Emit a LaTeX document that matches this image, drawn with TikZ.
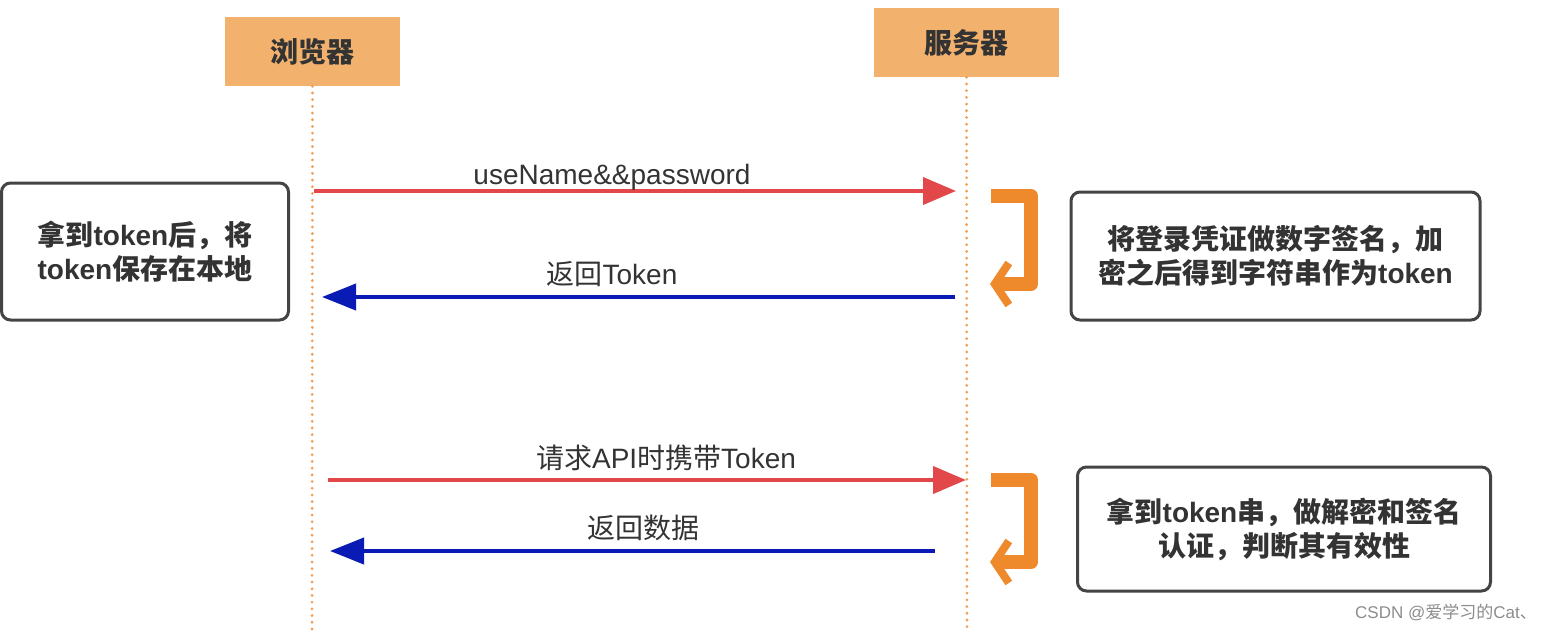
\documentclass[tikz,border=0pt]{standalone}
\usepackage{fontspec}
\setmainfont{Liberation Sans}
\newfontfamily\cjk{Noto Sans CJK SC}
\usetikzlibrary{arrows.meta}
\definecolor{hdrfill}{HTML}{F2B26E}
\definecolor{lifec}{HTML}{F0A058}
\definecolor{reqred}{HTML}{E2484A}
\definecolor{respblue}{HTML}{0A1AB5}
\definecolor{procor}{HTML}{EF8A2C}
\definecolor{txt}{HTML}{333333}
\definecolor{boxline}{HTML}{444444}
\newcommand\zh[1]{{\cjk #1}}
\tikzset{
  hdrbox/.style={fill=hdrfill, draw=none, minimum width=175pt, minimum height=69pt, inner sep=0pt,
    text=txt, font=\cjk\bfseries\fontsize{28}{34}\selectfont},
  lifeline/.style={draw=lifec, line width=3pt, line cap=round, dash pattern=on 0.1pt off 6.6pt},
  notebox/.style={draw=boxline, line width=3pt, rounded corners=9pt, fill=white, inner sep=0pt,
    text=txt, align=center, font=\bfseries\fontsize{28}{34}\selectfont},
  msgtext/.style={text=txt, inner sep=0pt, font=\fontsize{28}{32}\selectfont},
  reqarrow/.style={draw=reqred, line width=4pt, -{Triangle[length=33pt,width=27pt]}},
  resparrow/.style={draw=respblue, line width=4pt, -{Triangle[length=34pt,width=26pt]}},
  procarrow/.style={draw=procor, line width=14pt, line join=round, -{Straight Barb[length=14pt,width=42pt,line width=8pt]}},
}
\begin{document}
\begin{tikzpicture}[x=1pt,y=-1pt]
\useasboundingbox (0,0) rectangle (1555,632);
% headers
\node[hdrbox] (browser) at (312.5,51.5) {浏览器};
\node[hdrbox, minimum width=185pt] (server) at (966.5,42.5) {服务器};
% lifelines
\coordinate (bend) at (312,632);
\coordinate (send) at (967,632);
\draw[lifeline] (browser.south) -- (bend);
\draw[lifeline] (server.south) -- (send);
% message endpoints
\coordinate (m1s) at (314,191);  \coordinate (m1e) at (956,191);
\coordinate (m2s) at (955,297);  \coordinate (m2e) at (322,297);
\coordinate (m3s) at (328,480);  \coordinate (m3e) at (966,480);
\coordinate (m4s) at (935,551);  \coordinate (m4e) at (330,551);
\draw[reqarrow] (m1s) -- (m1e);
\draw[resparrow] (m2s) -- (m2e);
\draw[reqarrow] (m3s) -- (m3e);
\draw[resparrow] (m4s) -- (m4e);
\node[msgtext] (l1) at (612,177) {useName\&\&password};
\node[msgtext] (l2) at (612,274) {\zh{返回}Token};
\node[msgtext] (l3) at (666,458) {\zh{请求}API\zh{时携带}Token};
\node[msgtext] (l4) at (643,528) {\zh{返回数据}};
% processing arrows
\coordinate (p1a) at (991,196); \coordinate (p1b) at (1031,196);
\coordinate (p1c) at (1031,284); \coordinate (p1d) at (990,284);
\draw[procarrow] (p1a) -- (p1b) -- (p1c) -- (p1d);
\coordinate (p2a) at (991,480); \coordinate (p2b) at (1031,480);
\coordinate (p2c) at (1031,562); \coordinate (p2d) at (990,562);
\draw[procarrow] (p2a) -- (p2b) -- (p2c) -- (p2d);
% note boxes
\node[notebox, minimum width=287pt, minimum height=137pt] (leftnote) at (145,251.5)
  {\zh{\bfseries 拿到}token\zh{\bfseries 后，将}\\token\zh{\bfseries 保存在本地}};
\node[notebox, minimum width=409pt, minimum height=128pt] (signnote) at (1275.5,256)
  {\zh{\bfseries 将登录凭证做数字签名，加}\\\zh{\bfseries 密之后得到字符串作为}token};
\node[notebox, minimum width=413pt, minimum height=124pt] (verifynote) at (1284,529)
  {\zh{\bfseries 拿到}token\zh{\bfseries 串，做解密和签名}\\\zh{\bfseries 认证，判断其有效性}};
% watermark
\node[text=black!45, inner sep=0pt, font=\fontsize{17}{20}\selectfont] (wm) at (1446,612) {CSDN @\zh{爱学习的}Cat\zh{、}};
\end{tikzpicture}
\end{document}
